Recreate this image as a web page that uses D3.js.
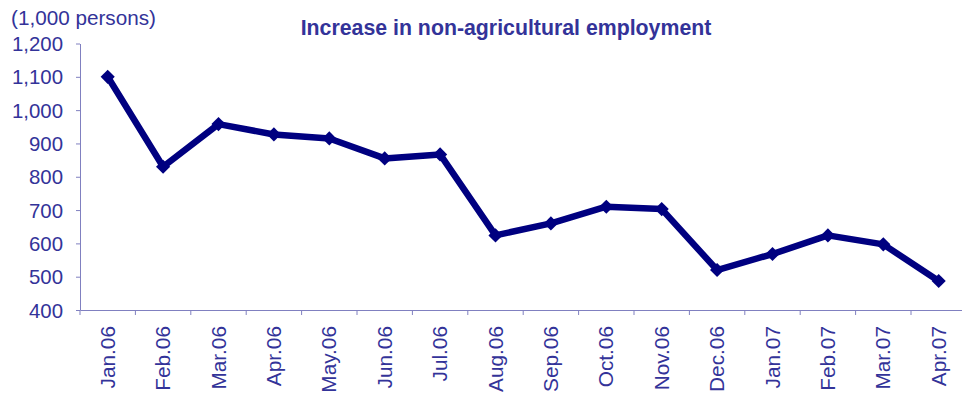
<!DOCTYPE html>
<html><head><meta charset="utf-8">
<script src="https://cdn.jsdelivr.net/npm/d3@7"></script>
<style>body{margin:0;background:#fff}svg{display:block}</style>
</head><body>
<svg id="c" width="962" height="394"></svg>
<script>
const categories = ["Jan.06","Feb.06","Mar.06","Apr.06","May.06","Jun.06","Jul.06","Aug.06","Sep.06","Oct.06","Nov.06","Dec.06","Jan.07","Feb.07","Mar.07","Apr.07"];
const values = [1100, 830, 958, 927, 915, 855, 867, 624, 660, 710, 703, 520, 568, 624, 597, 487];
const yTicks = [400, 500, 600, 700, 800, 900, 1000, 1100, 1200];
const title = "Increase in non-agricultural employment";
const unitLabel = "(1,000 persons)";

const svg = d3.select("#c");
const textColor = "#333399", axisColor = "#8080c0", lineColor = "#000080";
const font = "Liberation Sans, Arial, sans-serif";

const x = d3.scaleBand().domain(categories).range([80, 966.4]).paddingInner(0).paddingOuter(0);
const y = d3.scaleLinear().domain([400, 1200]).range([310, 43.5]);

// Y axis
const yAxis = svg.append("g").attr("transform", "translate(80,0)")
  .call(d3.axisLeft(y).tickValues(yTicks).tickSize(4).tickSizeOuter(0).tickFormat(d3.format(",")));
yAxis.select(".domain").attr("stroke", axisColor);
yAxis.selectAll(".tick line").attr("stroke", axisColor);
yAxis.selectAll(".tick text").attr("fill", textColor).attr("font-family", font).attr("font-size", 20.4)
  .attr("x", -17).attr("dy", "0.35em");

// X axis
const xAxis = svg.append("g").attr("transform", "translate(0,310)")
  .call(d3.axisBottom(x).tickSize(0).tickSizeOuter(0));
xAxis.select(".domain").attr("stroke", axisColor);
xAxis.selectAll(".tick line").remove();
xAxis.selectAll(".tick text").attr("fill", textColor).attr("font-family", font).attr("font-size", 20.8)
  .attr("text-anchor", "end").attr("x", 0).attr("y", 0).attr("dy", null)
  .attr("transform", "translate(7,16) rotate(-90)");
// category boundary ticks
const bounds = categories.map((c) => x(c)).concat([x(categories[categories.length-1]) + x.bandwidth()]);
xAxis.selectAll(".bt").data(bounds).enter().append("line").attr("class", "bt")
  .attr("x1", d => d).attr("x2", d => d).attr("y1", 0).attr("y2", 5).attr("stroke", axisColor);

// Line
const cx = d => x(d) + x.bandwidth() / 2;
const line = d3.line().x((d, i) => cx(categories[i])).y(d => y(d));
svg.append("path").datum(values).attr("d", line).attr("fill", "none")
  .attr("stroke", lineColor).attr("stroke-width", 6.5).attr("stroke-linejoin", "round");

const sym = d3.symbol().type(d3.symbolSquare).size(100);
svg.selectAll(".mk").data(values).enter().append("path").attr("class", "mk")
  .attr("d", sym).attr("fill", lineColor)
  .attr("transform", (d, i) => `translate(${cx(categories[i])},${y(d)}) rotate(45)`);

// Texts
svg.append("text").attr("x", 506).attr("y", 35).attr("text-anchor", "middle")
  .attr("font-family", font).attr("font-weight", "bold").attr("font-size", 21.3).attr("fill", textColor).text(title);
svg.append("text").attr("x", 11).attr("y", 25).attr("font-family", font).attr("font-size", 20.7)
  .attr("fill", textColor).text(unitLabel);
</script>
</body></html>
